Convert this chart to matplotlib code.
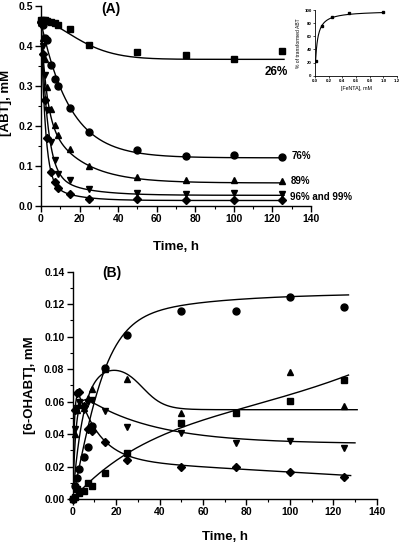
import numpy as np
import matplotlib
matplotlib.use('Agg')
import matplotlib.pyplot as plt
from matplotlib.ticker import MultipleLocator

plt.rcParams['font.family'] = ['Liberation Sans', 'DejaVu Sans']
plt.rcParams['font.weight'] = 'bold'

# ---- data ----
time_h = [0, 1, 2, 3, 5, 7, 9, 15, 25, 50, 75, 100, 125]

# (A) ABT consumption, mM
abt_sq = [0.465, 0.466, 0.465, 0.464, 0.461, 0.459, 0.453, 0.442, 0.403, 0.386, 0.378, 0.367, 0.388]
abt_ci = [0.460, 0.453, 0.420, 0.415, 0.353, 0.317, 0.300, 0.246, 0.186, 0.140, 0.125, 0.128, 0.121]
abt_up = [0.460, 0.420, 0.367, 0.298, 0.242, 0.202, 0.177, 0.141, 0.100, 0.071, 0.064, 0.064, 0.063]
abt_dn = [0.460, 0.400, 0.328, 0.240, 0.160, 0.115, 0.080, 0.064, 0.042, 0.033, 0.030, 0.032, 0.030]
abt_di = [0.460, 0.380, 0.265, 0.170, 0.085, 0.060, 0.045, 0.029, 0.018, 0.016, 0.015, 0.015, 0.014]

# fit parameters per series: plateau, fast amp, fast k, slow amp, slow tau, slow exponent
fit_a = {
    's': (0.367, 0.0, 1.0, 0.098, 25.0, 1.6),
    'o': (0.120, 0.0, 1.0, 0.340, 15.2, 1.0),
    '^': (0.057, 0.23, 0.35, 0.170, 18.2, 1.0),
    'v': (0.026, 0.374, 0.30, 0.060, 16.7, 1.0),
    'D': (0.013, 0.40, 0.45, 0.050, 12.5, 1.0),
}
pct_labels = ['26%', '76%', '89%', '96% and 99%']
pct_pos = [(116, 0.336), (130, 0.125), (129.5, 0.063), (129, 0.021)]

# inset: transformation vs FeNTA
fenta = [0.01, 0.1, 0.25, 0.5, 1.0]
pct_transformed = [22, 76, 89, 96, 97]
mm_vmax, mm_k = 99.0, 0.03

# (B) 6-OHABT formation, mM
oh_ci = [0.000, 0.008, 0.013, 0.0185, 0.026, 0.032, 0.045, 0.0805, 0.101, 0.116, 0.116, 0.1246, 0.118]
oh_up = [0.000, 0.040, 0.055, 0.058, 0.056, 0.062, 0.068, 0.080, 0.0737, 0.0528, 0.0534, 0.078, 0.0575]
oh_dn = [0.000, 0.043, 0.056, 0.060, 0.055, 0.060, 0.061, 0.0544, 0.0446, 0.0405, 0.0343, 0.0357, 0.0316]
oh_di = [0.000, 0.055, 0.065, 0.0657, 0.057, 0.043, 0.042, 0.0353, 0.024, 0.0195, 0.0199, 0.0168, 0.0137]
oh_sq = [0.000, 0.0014, 0.006, 0.004, 0.005, 0.0097, 0.0082, 0.0158, 0.0285, 0.0466, 0.053, 0.0606, 0.0733]


def curve_a(t, p):
    plat, a1, k1, a2, tau2, n2 = p
    return plat + a1 * np.exp(-k1 * t) + a2 * np.exp(-(t / tau2) ** n2)


fig = plt.figure(figsize=(4, 5.44), dpi=100)


def style(ax, xmaj, xmin, ymaj, ymin, fs=7.5):
    for s in ['top', 'right']:
        ax.spines[s].set_visible(False)
    for s in ['left', 'bottom']:
        ax.spines[s].set_linewidth(1.0)
    ax.xaxis.set_major_locator(MultipleLocator(xmaj))
    ax.xaxis.set_minor_locator(MultipleLocator(xmin))
    ax.yaxis.set_major_locator(MultipleLocator(ymaj))
    ax.yaxis.set_minor_locator(MultipleLocator(ymin))
    ax.tick_params(which='major', direction='out', length=4, width=1, labelsize=fs, pad=2)
    ax.tick_params(which='minor', direction='out', length=2, width=0.8)
    for lab in ax.get_xticklabels() + ax.get_yticklabels():
        lab.set_fontweight('bold')


# ---------------- panel A ----------------
ax1 = fig.add_axes([0.1025, 0.6219, 0.675, 0.3665])
tt = np.linspace(0, 126, 400)
series_a = [(abt_sq, 's'), (abt_ci, 'o'), (abt_up, '^'), (abt_dn, 'v'), (abt_di, 'D')]
for vals, m in series_a:
    ms = 5 if m != 'D' else 4.5
    ax1.plot(time_h, vals, m, color='black', ms=ms, clip_on=False)
    ax1.plot(tt, curve_a(tt, fit_a[m]), color='black', lw=1.0)
ax1.set_xlim(0, 140)
ax1.set_ylim(0, 0.5)
style(ax1, 20, 10, 0.1, 0.05)
ax1.yaxis.set_major_formatter(plt.FormatStrFormatter('%.1f'))
ax1.set_xlabel('Time, h', fontsize=9.5, fontweight='bold', labelpad=12)
fig.text(0.015, 0.81, '[ABT], mM', rotation=90, fontsize=9.5, fontweight='bold',
         ha='center', va='center')
ax1.text(0.26, 0.985, '(A)', transform=ax1.transAxes, fontsize=10, fontweight='bold',
         ha='center', va='center')
for lab, (x, y) in zip(pct_labels, pct_pos):
    fs = 8.5 if lab == '26%' else 7
    ax1.text(x, y, lab, fontsize=fs, fontweight='bold', ha='left', va='center')

# inset
axi = fig.add_axes([0.7875, 0.8608, 0.205, 0.1208])
xx = np.linspace(0.01, 1.0, 200)
axi.plot(xx, mm_vmax * xx / (mm_k + xx), color='black', lw=0.8)
axi.plot(fenta, pct_transformed, 's', color='black', ms=1.8)
axi.set_xlim(0, 1.2)
axi.set_ylim(0, 100)
for s in ['top', 'right']:
    axi.spines[s].set_visible(False)
for s in ['left', 'bottom']:
    axi.spines[s].set_linewidth(0.6)
axi.xaxis.set_major_locator(MultipleLocator(0.2))
axi.yaxis.set_major_locator(MultipleLocator(20))
axi.xaxis.set_major_formatter(plt.FormatStrFormatter('%.1f'))
axi.tick_params(labelsize=3.2, length=1.5, width=0.5, pad=1)
axi.set_xlabel('[FeNTA], mM', fontsize=3.8, labelpad=2)
axi.set_ylabel('% of transformed ABT', fontsize=3.6, labelpad=2)

# ---------------- panel B ----------------
ax2 = fig.add_axes([0.1818, 0.0827, 0.76, 0.4179])
t1 = np.linspace(0.8, 127, 400)
ax2.plot(t1, 0.105 * np.tanh(t1 / 17) + 0.022 * (1 - np.exp(-t1 / 45)), color='black', lw=1.0)
t2 = np.linspace(0.3, 131, 400)
ax2.plot(t2, (0.055 + 0.028 / (1 + np.exp((t2 - 32) / 5))) * (1 - np.exp(-t2 / 5)),
         color='black', lw=1.0)
t3 = np.linspace(0.2, 130, 400)
ax2.plot(t3, (0.034 + 0.034 * np.exp(-t3 / 32)) * (1 - np.exp(-t3 / 1.5)), color='black', lw=1.0)
t4 = np.linspace(0.1, 128, 400)
ax2.plot(t4, (0.0243 - 0.000077 * t4 + 0.055 * np.exp(-t4 / 10)) * (1 - np.exp(-t4 / 0.8)),
         color='black', lw=1.0)
t5 = np.linspace(0, 127, 400)
ax2.plot(t5, 0.06 * (1 - np.exp(-t5 / 40)) + 9.2e-9 * t5 ** 3, color='black', lw=1.0)

series_b = [(oh_ci, 'o'), (oh_up, '^'), (oh_dn, 'v'), (oh_di, 'D'), (oh_sq, 's')]
for vals, m in series_b:
    ms = 5 if m != 'D' else 4.5
    ax2.plot(time_h, vals, m, color='black', ms=ms, clip_on=False)
ax2.set_xlim(0, 140)
ax2.set_ylim(0, 0.14)
style(ax2, 20, 10, 0.02, 0.01)
ax2.yaxis.set_major_formatter(plt.FormatStrFormatter('%.2f'))
ax2.set_xlabel('Time, h', fontsize=9.5, fontweight='bold', labelpad=10)
ax2.set_ylabel('[6-OHABT], mM', fontsize=9.5, fontweight='bold', labelpad=6)
ax2.text(0.13, 0.995, '(B)', transform=ax2.transAxes, fontsize=10, fontweight='bold',
         ha='center', va='center')

fig.savefig('out.png', dpi=100)
